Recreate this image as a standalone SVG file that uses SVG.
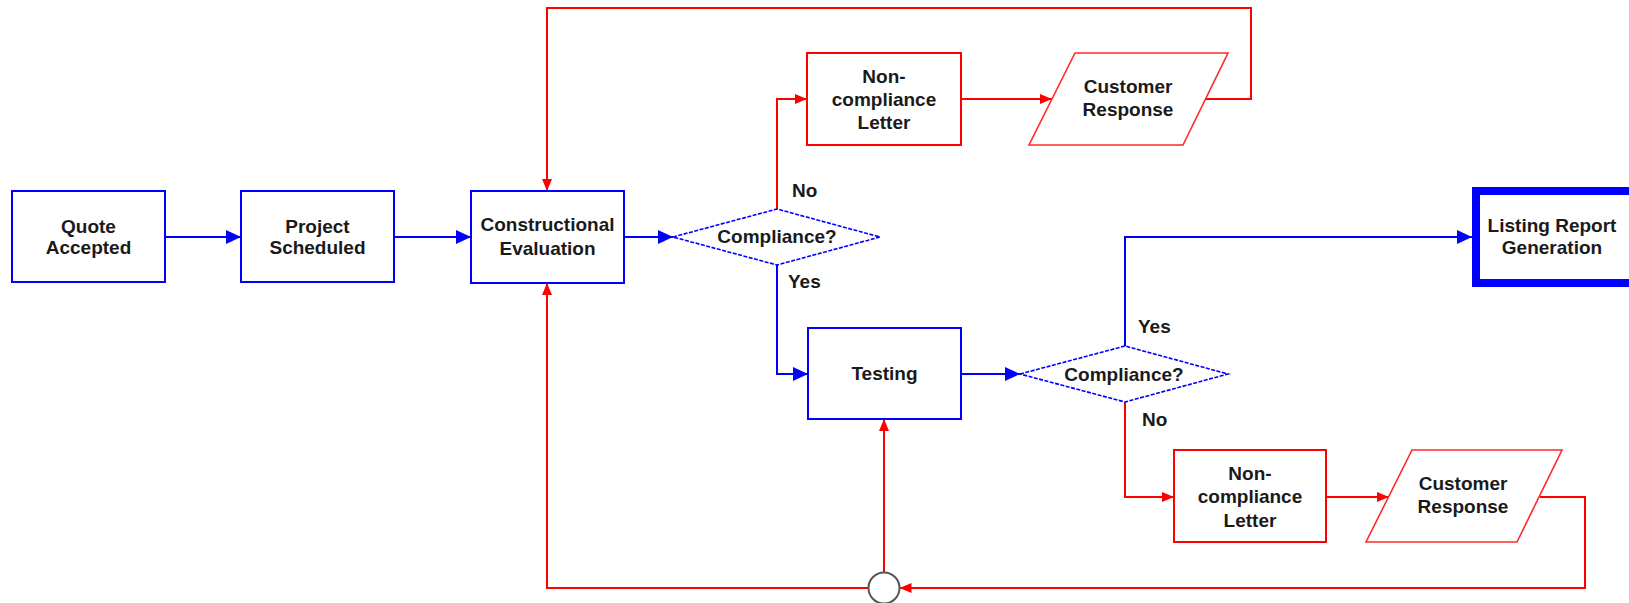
<svg xmlns="http://www.w3.org/2000/svg" width="1629" height="603" viewBox="0 0 1629 603">
<style>
text{font-family:"Liberation Sans",Arial,sans-serif;font-weight:bold;font-size:19px;fill:#1a1a1a;text-anchor:middle}
.lbl{text-anchor:start}
.bbox{fill:#fff;stroke:#0000ff;stroke-width:2}
.rbox{fill:#fff;stroke:#ff0000;stroke-width:2}
.para{fill:#fff;stroke:#ff2a2a;stroke-width:1.6}
.dia{fill:#fff;stroke:#0000ff;stroke-width:1.6;stroke-dasharray:4 1.5}
.bl{fill:none;stroke:#0000ff;stroke-width:2;marker-end:url(#ab)}
.rl{fill:none;stroke:#ff0000;stroke-width:2;marker-end:url(#ar)}
.rln{fill:none;stroke:#ff0000;stroke-width:2}
</style>
<defs>
<marker id="ab" markerUnits="userSpaceOnUse" markerWidth="16" markerHeight="16" refX="15" refY="7" orient="auto"><path d="M0,0 L15,7 L0,14 z" fill="#0000ff"/></marker>
<marker id="ar" markerUnits="userSpaceOnUse" markerWidth="14" markerHeight="12" refX="12" refY="5" orient="auto"><path d="M0,0 L12,5 L0,10 z" fill="#ff0000"/></marker>
</defs>
<rect width="1629" height="603" fill="#fff"/>
<g id="connectors">
<path class="bl" d="M165,237 H241"/>
<path class="bl" d="M394,237 H471"/>
<path class="bl" d="M624,237 H673"/>
<path class="rl" d="M777,209 V99 H807"/>
<path class="rl" d="M961,99 H1052"/>
<path class="rl" d="M1206,99 H1251 V8 H547 V191"/>
<path class="bl" d="M777,265 V374 H808"/>
<path class="bl" d="M961,374 H1020"/>
<path class="bl" d="M1125,346 V237 H1472"/>
<path class="rl" d="M1125,402 V497 H1174"/>
<path class="rl" d="M1326,497 H1389"/>
<path class="rl" d="M1540,497 H1585 V588 H899.5"/>
<path class="rl" d="M884,572.5 V419"/>
<path class="rl" d="M868.5,588 H547 V283"/>
</g>
<g id="quote"><rect class="bbox" x="12" y="191" width="153" height="91"/><text x="88.5" y="233">Quote</text><text x="88.5" y="254">Accepted</text></g>
<g id="project"><rect class="bbox" x="241" y="191" width="153" height="91"/><text x="317.5" y="233">Project</text><text x="317.5" y="254">Scheduled</text></g>
<g id="constructional"><rect class="bbox" x="471" y="191" width="153" height="92"/><text x="547.5" y="231">Constructional</text><text x="547.5" y="255">Evaluation</text></g>
<g id="compliance1"><polygon class="dia" points="673,237 777,209 880,237 777,265"/><text x="777" y="243">Compliance?</text></g>
<g id="label-no1"><text class="lbl" x="792" y="197">No</text></g>
<g id="label-yes1"><text class="lbl" x="788" y="288">Yes</text></g>
<g id="noncompliance1"><rect class="rbox" x="807" y="53" width="154" height="92"/><text x="884" y="83">Non-</text><text x="884" y="106">compliance</text><text x="884" y="129">Letter</text></g>
<g id="response1"><polygon class="para" points="1075,53 1228,53 1183,145 1029,145"/><text x="1128" y="93">Customer</text><text x="1128" y="116">Response</text></g>
<g id="testing"><rect class="bbox" x="808" y="328" width="153" height="91"/><text x="884.5" y="380">Testing</text></g>
<g id="compliance2"><polygon class="dia" points="1020,374 1125,346 1228,374 1125,402"/><text x="1124" y="381">Compliance?</text></g>
<g id="label-yes2"><text class="lbl" x="1138" y="333">Yes</text></g>
<g id="label-no2"><text class="lbl" x="1142" y="426">No</text></g>
<g id="listing"><rect x="1476" y="191" width="160" height="92" fill="#fff" stroke="#0000ff" stroke-width="8"/><text x="1552" y="232">Listing Report</text><text x="1552" y="254">Generation</text></g>
<g id="noncompliance2"><rect class="rbox" x="1174" y="450" width="152" height="92"/><text x="1250" y="480">Non-</text><text x="1250" y="503">compliance</text><text x="1250" y="527">Letter</text></g>
<g id="response2"><polygon class="para" points="1412,450 1562,450 1517,542 1366,542"/><text x="1463" y="490">Customer</text><text x="1463" y="513">Response</text></g>
<g id="junction"><circle cx="884" cy="588" r="15.5" fill="#fff" stroke="#555" stroke-width="2"/></g>
</svg>
